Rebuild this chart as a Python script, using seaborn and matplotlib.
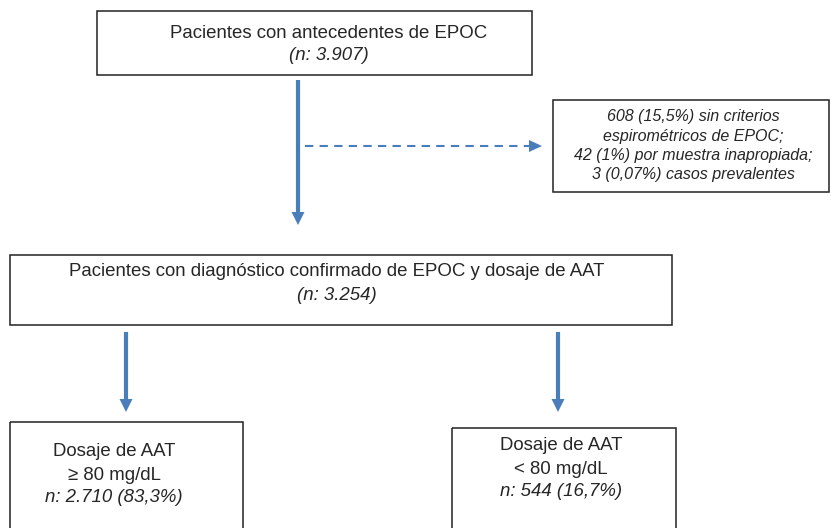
import matplotlib
matplotlib.use("Agg")
import matplotlib.pyplot as plt
import seaborn as sns
from matplotlib.patches import Rectangle

# flowchart content
top_title = "Pacientes con antecedentes de EPOC"
top_n = "(n: 3.907)"
excl_lines = [
    "608 (15,5%) sin criterios",
    "espirométricos de EPOC;",
    "42 (1%) por muestra inapropiada;",
    "3 (0,07%) casos prevalentes",
]
mid_title = "Pacientes con diagnóstico confirmado de EPOC y dosaje de AAT"
mid_n = "(n: 3.254)"
group_titles = ["Dosaje de AAT", "Dosaje de AAT"]
group_limits = ["≥ 80 mg/dL", "< 80 mg/dL"]
group_n = ["n: 2.710 (83,3%)", "n: 544 (16,7%)"]

sns.set_style("white")
plt.rcParams["font.family"] = ["Liberation Sans", "DejaVu Sans"]

W, H = 831, 528
fig = plt.figure(figsize=(W / 100, H / 100), dpi=100)
ax = fig.add_axes([0, 0, 1, 1])
ax.set_xlim(0, W)
ax.set_ylim(H, 0)
ax.axis("off")

blue = "#4a7ebb"
edge = "#222222"
FS = 13.4


def box(x0, y0, x1, y1):
    ax.add_patch(Rectangle((x0, y0), x1 - x0, y1 - y0, fill=False,
                           edgecolor=edge, lw=1.1))


def down_arrow(x, y0, y1):
    # shaft then a small filled head, tip at y1
    ax.plot([x, x], [y0, y1 - 11], color=blue, lw=3, solid_capstyle="butt")
    ax.fill([x - 6.5, x + 6.5, x], [y1 - 13, y1 - 13, y1], color=blue, lw=0)


def right_dashed_arrow(y, x0, x1):
    ax.plot([x0, x1 - 12], [y, y], color=blue, lw=1.5,
            linestyle=(0, (4, 3)), dash_capstyle="butt")
    ax.fill([x1 - 13, x1 - 13, x1], [y - 6, y + 6, y], color=blue, lw=0)


# top box
box(97, 11, 532, 75)
ax.text(329, 33, top_title, ha="center", va="center", fontsize=FS)
ax.text(329, 55, top_n, ha="center", va="center", fontsize=FS, style="italic")

down_arrow(298, 80, 225)
right_dashed_arrow(146, 305, 542)

# exclusions box
box(553, 100, 829, 192)
for i, line in enumerate(excl_lines):
    ax.text(693, 117 + i * 19.3, line, ha="center", va="center",
            fontsize=11.5, style="italic")

# confirmed box
box(10, 255, 672, 325)
ax.text(337, 272, mid_title, ha="center", va="center", fontsize=FS)
ax.text(337, 295, mid_n, ha="center", va="center", fontsize=FS,
        style="italic")

down_arrow(126, 332, 412)
down_arrow(558, 332, 412)

# group boxes
boxes = [(10, 422, 243, 540), (452, 428, 676, 540)]
centers = [(114, 452), (561, 446)]
for (x0, y0, x1, y1), (cx, cy), t, lim, n in zip(boxes, centers, group_titles,
                                                  group_limits, group_n):
    box(x0, y0, x1, y1)
    ax.text(cx, cy, t, ha="center", va="center", fontsize=FS)
    ax.text(cx, cy + 23, lim, ha="center", va="center", fontsize=FS)
    ax.text(cx, cy + 46, n, ha="center", va="center", fontsize=FS,
            style="italic")

fig.savefig("out.png", dpi=100)
